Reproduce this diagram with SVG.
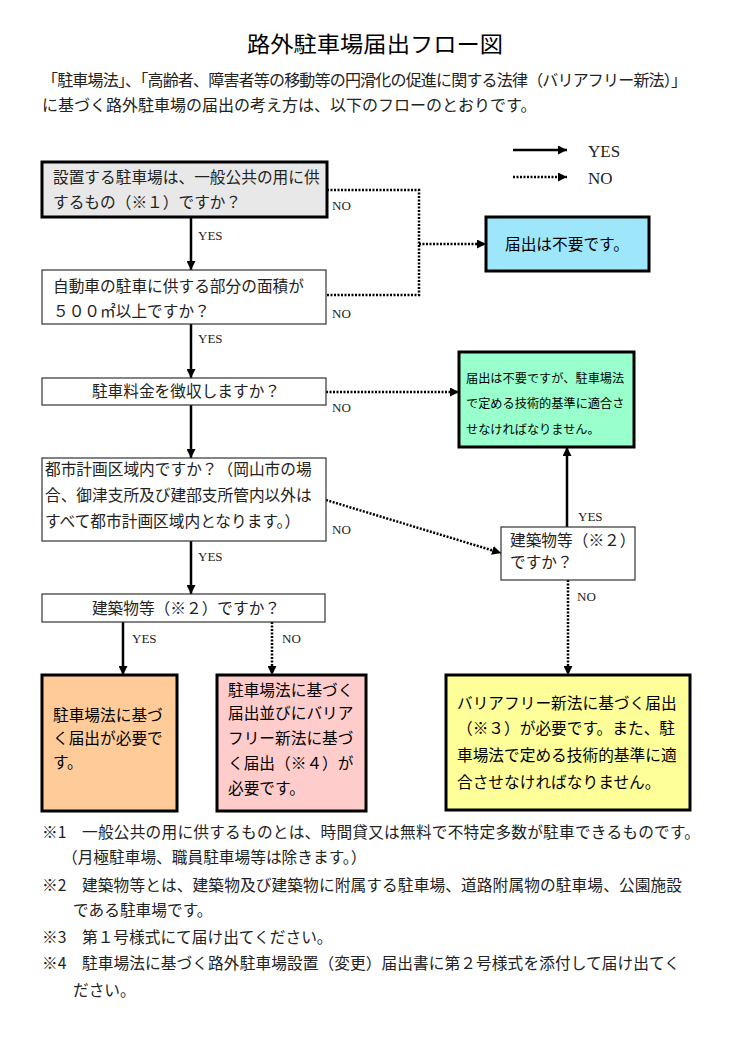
<svg xmlns="http://www.w3.org/2000/svg" width="750" height="1061" viewBox="0 0 750 1061">
<defs>
<style>
.jp{font-family:"Noto Sans CJK JP","Noto Sans CJK SC",sans-serif;font-size:15.7px;fill:#222}
.out{fill:#000}
.sm{font-size:12.2px}
.lat{font-family:"Liberation Serif","Times New Roman",serif;font-size:13px;fill:#222}
.thick{stroke:#000;stroke-width:3}
.thin{fill:#fff;stroke:#333;stroke-width:1.2}
.solid{fill:none;stroke:#000;stroke-width:2.5}
.dot{fill:none;stroke:#000;stroke-width:2.5;stroke-dasharray:2 1.5}
</style>
<marker id="ah" viewBox="0 0 10 10" refX="10" refY="5" markerWidth="9" markerHeight="9" markerUnits="userSpaceOnUse" orient="auto">
<path d="M0,0 L10,5 L0,10 z" fill="#000"/>
</marker>
</defs>
<rect width="750" height="1061" fill="#fff"/>

<g id="header">
<text class="jp" x="247" y="52" style="font-size:22px;fill:#000" textLength="256" lengthAdjust="spacingAndGlyphs">路外駐車場届出フロー図</text>
<text class="jp" x="42" y="86" style="font-size:16px" textLength="645" lengthAdjust="spacing">「駐車場法」、「高齢者、障害者等の移動等の円滑化の促進に関する法律（バリアフリー新法）」</text>
<text class="jp" x="42" y="111" style="font-size:16px">に基づく路外駐車場の届出の考え方は、以下のフローのとおりです。</text>
</g>

<g id="legend">
<line class="solid" x1="513" y1="150" x2="567" y2="150" marker-end="url(#ah)"/>
<text class="lat" x="588" y="157" style="font-size:17px">YES</text>
<line class="dot" x1="513" y1="177" x2="567" y2="177" marker-end="url(#ah)"/>
<text class="lat" x="588" y="184" style="font-size:17px">NO</text>
</g>

<g id="connectors">
<line class="solid" x1="191" y1="217" x2="191" y2="270" marker-end="url(#ah)"/>
<line class="solid" x1="191" y1="324" x2="191" y2="378" marker-end="url(#ah)"/>
<line class="solid" x1="191" y1="405" x2="191" y2="458" marker-end="url(#ah)"/>
<line class="solid" x1="191" y1="541" x2="191" y2="594" marker-end="url(#ah)"/>
<line class="solid" x1="123" y1="622" x2="123" y2="675" marker-end="url(#ah)"/>
<line class="dot" x1="272" y1="622" x2="272" y2="675" marker-end="url(#ah)"/>
<polyline class="dot" points="327,190 419,190 419,295 326,295"/>
<line class="dot" x1="419" y1="244" x2="486" y2="244" marker-end="url(#ah)"/>
<line class="dot" x1="326" y1="392" x2="459" y2="392" marker-end="url(#ah)"/>
<line class="dot" x1="326" y1="500" x2="501" y2="553" marker-end="url(#ah)"/>
<line class="solid" x1="567" y1="527" x2="567" y2="447" marker-end="url(#ah)"/>
<line class="dot" x1="568" y1="580" x2="568" y2="675" marker-end="url(#ah)"/>
<text class="lat" x="198" y="240">YES</text>
<text class="lat" x="198" y="343">YES</text>
<text class="lat" x="198" y="561">YES</text>
<text class="lat" x="132" y="643">YES</text>
<text class="lat" x="282" y="643">NO</text>
<text class="lat" x="332" y="210">NO</text>
<text class="lat" x="332" y="318">NO</text>
<text class="lat" x="332" y="412">NO</text>
<text class="lat" x="332" y="534">NO</text>
<text class="lat" x="578" y="521">YES</text>
<text class="lat" x="577" y="601">NO</text>
</g>

<g id="q1">
<rect class="thick" x="42" y="162" width="285" height="55" fill="#e8e8e8"/>
<text class="jp" x="53" y="183">設置する駐車場は、一般公共の用に供</text>
<text class="jp" x="53" y="208">するもの（※１）ですか？</text>
</g>
<g id="q2">
<rect class="thin" x="42" y="270" width="284" height="54"/>
<text class="jp" x="53" y="292">自動車の駐車に供する部分の面積が</text>
<text class="jp" x="53" y="317">５００㎡以上ですか？</text>
</g>
<g id="q3">
<rect class="thin" x="42" y="378" width="284" height="27"/>
<text class="jp" x="186" y="397" text-anchor="middle">駐車料金を徴収しますか？</text>
</g>
<g id="q4">
<rect class="thin" x="42" y="458" width="284" height="83"/>
<text class="jp" x="45" y="475">都市計画区域内ですか？（岡山市の場</text>
<text class="jp" x="45" y="501">合、御津支所及び建部支所管内以外は</text>
<text class="jp" x="45" y="527">すべて都市計画区域内となります。）</text>
</g>
<g id="q5">
<rect class="thin" x="42" y="594" width="283" height="28"/>
<text class="jp" x="186" y="614" text-anchor="middle">建築物等（※２）ですか？</text>
</g>
<g id="q6">
<rect class="thin" x="501" y="527" width="134" height="53"/>
<text class="jp" x="510" y="546">建築物等（※２）</text>
<text class="jp" x="510" y="568">ですか？</text>
</g>

<g id="r-none">
<rect class="thick" x="486" y="217" width="163" height="54" fill="#9ee7fb"/>
<text class="jp out" x="505" y="250">届出は不要です。</text>
</g>
<g id="r-tech">
<rect class="thick" x="459" y="352" width="175" height="95" fill="#99ffcc"/>
<text class="jp out sm" x="466" y="383">届出は不要ですが、駐車場法</text>
<text class="jp out sm" x="466" y="408">で定める技術的基準に適合さ</text>
<text class="jp out sm" x="466" y="434">せなければなりません。</text>
</g>
<g id="r-parking">
<rect class="thick" x="42" y="675" width="135" height="136" fill="#ffcc99"/>
<text class="jp out" x="53" y="721">駐車場法に基づ</text>
<text class="jp out" x="53" y="744">く届出が必要で</text>
<text class="jp out" x="53" y="768">す。</text>
</g>
<g id="r-both">
<rect class="thick" x="217" y="675" width="149" height="136" fill="#ffcccc"/>
<text class="jp out" x="228" y="696">駐車場法に基づく</text>
<text class="jp out" x="228" y="719">届出並びにバリア</text>
<text class="jp out" x="228" y="744">フリー新法に基づ</text>
<text class="jp out" x="228" y="769">く届出（※４）が</text>
<text class="jp out" x="228" y="794">必要です。</text>
</g>
<g id="r-bf">
<rect class="thick" x="446" y="675" width="244" height="135" fill="#ffff99"/>
<text class="jp out" x="457" y="709">バリアフリー新法に基づく届出</text>
<text class="jp out" x="457" y="734">（※３）が必要です。また、駐</text>
<text class="jp out" x="457" y="761">車場法で定める技術的基準に適</text>
<text class="jp out" x="457" y="788">合させなければなりません。</text>
</g>

<g id="notes">
<text class="jp" x="42" y="838">※1</text>
<text class="jp" x="82" y="838" textLength="618">一般公共の用に供するものとは、時間貸又は無料で不特定多数が駐車できるものです。</text>
<text class="jp" x="62" y="863">（月極駐車場、職員駐車場等は除きます。）</text>
<text class="jp" x="42" y="891">※2</text>
<text class="jp" x="82" y="891" textLength="600">建築物等とは、建築物及び建築物に附属する駐車場、道路附属物の駐車場、公園施設</text>
<text class="jp" x="73" y="916">である駐車場です。</text>
<text class="jp" x="42" y="943">※3</text>
<text class="jp" x="82" y="943">第１号様式にて届け出てください。</text>
<text class="jp" x="42" y="969">※4</text>
<text class="jp" x="82" y="969" textLength="598">駐車場法に基づく路外駐車場設置（変更）届出書に第２号様式を添付して届け出てく</text>
<text class="jp" x="73" y="996">ださい。</text>
</g>
</svg>
